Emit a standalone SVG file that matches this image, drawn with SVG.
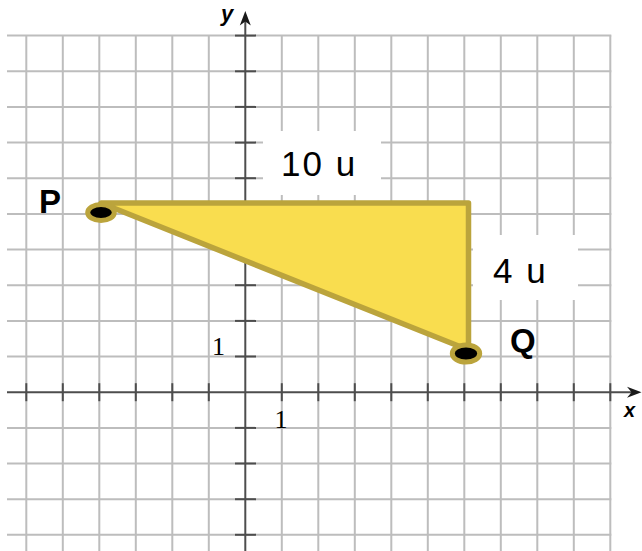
<svg xmlns="http://www.w3.org/2000/svg" width="642" height="551" viewBox="0 0 642 551">
<style>
.grid line{stroke:#bdbdbd;stroke-width:2}
.ax{stroke:#4d4d4d;stroke-width:2;fill:none}
.tick{stroke:#4d4d4d;stroke-width:2}
.sans{font-family:"Liberation Sans",Arial,sans-serif;fill:#000}
.serif{font-family:"Liberation Serif","Times New Roman",serif;fill:#000}
.dot{fill:#000;stroke:#bba43c;stroke-width:5}
.box{fill:#fff}
</style>
<rect width="642" height="551" fill="#fff"/>
<g id="grid" class="grid">
<line x1="26.3" y1="35.6" x2="26.3" y2="551"/>
<line x1="62.8" y1="35.6" x2="62.8" y2="551"/>
<line x1="99.3" y1="35.6" x2="99.3" y2="551"/>
<line x1="135.8" y1="35.6" x2="135.8" y2="551"/>
<line x1="172.3" y1="35.6" x2="172.3" y2="551"/>
<line x1="208.8" y1="35.6" x2="208.8" y2="551"/>
<line x1="281.8" y1="35.6" x2="281.8" y2="551"/>
<line x1="318.3" y1="35.6" x2="318.3" y2="551"/>
<line x1="354.8" y1="35.6" x2="354.8" y2="551"/>
<line x1="391.3" y1="35.6" x2="391.3" y2="551"/>
<line x1="427.8" y1="35.6" x2="427.8" y2="551"/>
<line x1="464.3" y1="35.6" x2="464.3" y2="551"/>
<line x1="500.8" y1="35.6" x2="500.8" y2="551"/>
<line x1="537.3" y1="35.6" x2="537.3" y2="551"/>
<line x1="573.8" y1="35.6" x2="573.8" y2="551"/>
<line x1="610.3" y1="35.6" x2="610.3" y2="551"/>
<line x1="7" y1="35.6" x2="611.3" y2="35.6"/>
<line x1="7" y1="71.3" x2="611.3" y2="71.3"/>
<line x1="7" y1="106.9" x2="611.3" y2="106.9"/>
<line x1="7" y1="142.6" x2="611.3" y2="142.6"/>
<line x1="7" y1="178.2" x2="611.3" y2="178.2"/>
<line x1="7" y1="213.9" x2="611.3" y2="213.9"/>
<line x1="7" y1="249.6" x2="611.3" y2="249.6"/>
<line x1="7" y1="285.2" x2="611.3" y2="285.2"/>
<line x1="7" y1="320.9" x2="611.3" y2="320.9"/>
<line x1="7" y1="356.5" x2="611.3" y2="356.5"/>
<line x1="7" y1="427.9" x2="611.3" y2="427.9"/>
<line x1="7" y1="463.5" x2="611.3" y2="463.5"/>
<line x1="7" y1="499.2" x2="611.3" y2="499.2"/>
<line x1="7" y1="534.8" x2="611.3" y2="534.8"/>
</g>
<g id="axes">
<line class="ax" x1="7" y1="392.2" x2="633" y2="392.2"/>
<line class="ax" x1="245.3" y1="551" x2="245.3" y2="20"/>
<path d="M641.5,392.2 L627,386.7 L631.5,392.2 L627,397.7 Z" fill="#1a1a1a"/>
<path d="M245.3,11 L239.8,25.5 L245.3,21.5 L250.8,25.5 Z" fill="#1a1a1a"/>
<g class="tick">
<line x1="26.3" y1="383.2" x2="26.3" y2="401.2"/>
<line x1="62.8" y1="383.2" x2="62.8" y2="401.2"/>
<line x1="99.3" y1="383.2" x2="99.3" y2="401.2"/>
<line x1="135.8" y1="383.2" x2="135.8" y2="401.2"/>
<line x1="172.3" y1="383.2" x2="172.3" y2="401.2"/>
<line x1="208.8" y1="383.2" x2="208.8" y2="401.2"/>
<line x1="281.8" y1="383.2" x2="281.8" y2="401.2"/>
<line x1="318.3" y1="383.2" x2="318.3" y2="401.2"/>
<line x1="354.8" y1="383.2" x2="354.8" y2="401.2"/>
<line x1="391.3" y1="383.2" x2="391.3" y2="401.2"/>
<line x1="427.8" y1="383.2" x2="427.8" y2="401.2"/>
<line x1="464.3" y1="383.2" x2="464.3" y2="401.2"/>
<line x1="500.8" y1="383.2" x2="500.8" y2="401.2"/>
<line x1="537.3" y1="383.2" x2="537.3" y2="401.2"/>
<line x1="573.8" y1="383.2" x2="573.8" y2="401.2"/>
<line x1="610.3" y1="383.2" x2="610.3" y2="401.2"/>
<line x1="235" y1="35.6" x2="256" y2="35.6"/>
<line x1="235" y1="71.3" x2="256" y2="71.3"/>
<line x1="235" y1="106.9" x2="256" y2="106.9"/>
<line x1="235" y1="142.6" x2="256" y2="142.6"/>
<line x1="235" y1="178.2" x2="256" y2="178.2"/>
<line x1="235" y1="213.9" x2="256" y2="213.9"/>
<line x1="235" y1="249.6" x2="256" y2="249.6"/>
<line x1="235" y1="285.2" x2="256" y2="285.2"/>
<line x1="235" y1="320.9" x2="256" y2="320.9"/>
<line x1="235" y1="356.5" x2="256" y2="356.5"/>
<line x1="235" y1="427.9" x2="256" y2="427.9"/>
<line x1="235" y1="463.5" x2="256" y2="463.5"/>
<line x1="235" y1="499.2" x2="256" y2="499.2"/>
<line x1="235" y1="534.8" x2="256" y2="534.8"/>
</g>
<text class="sans" x="221" y="20.5" font-size="22" font-style="italic" font-weight="bold">y</text>
<text class="sans" x="624" y="417" font-size="20" font-style="italic" font-weight="bold">x</text>
<text class="serif" x="212" y="355.3" font-size="26">1</text>
<text class="serif" x="274.4" y="427.7" font-size="26">1</text>
</g>
<g id="triangle">
<polygon points="101,203 468.5,203 468.5,350" fill="#f9dd4f" stroke="#bba43c" stroke-width="5.5" stroke-linejoin="round"/>
</g>
<g id="point-P">
<ellipse class="dot" cx="101" cy="212.5" rx="13.3" ry="8"/>
<text class="sans" x="39" y="213.3" font-size="33" font-weight="bold">P</text>
</g>
<g id="point-Q">
<ellipse class="dot" cx="466" cy="353.5" rx="13.7" ry="8.5"/>
<text class="sans" x="510" y="352" font-size="33" font-weight="bold">Q</text>
</g>
<g id="label-10u">
<rect class="box" x="263" y="131" width="118" height="64"/>
<text class="sans" x="281" y="176" font-size="35" letter-spacing="2">10 u</text>
</g>
<g id="label-4u">
<rect class="box" x="473" y="235" width="105" height="65"/>
<text class="sans" x="493" y="282.7" font-size="35" letter-spacing="2">4 u</text>
</g>
</svg>
